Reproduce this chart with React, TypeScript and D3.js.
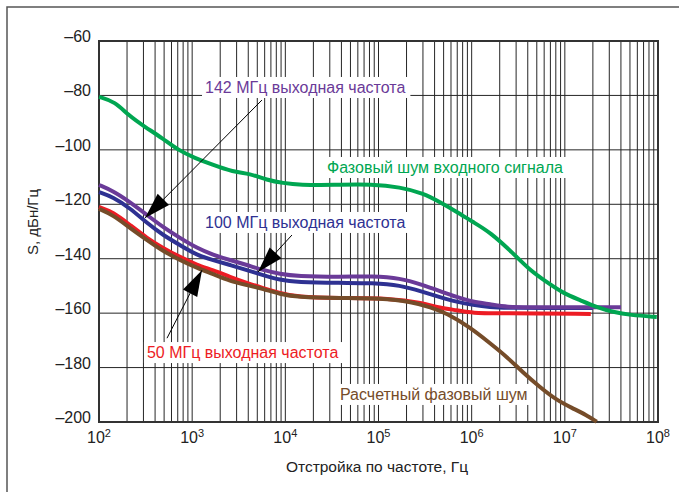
import { useEffect, useRef } from "react";
import * as d3 from "d3";

const width = 679;
const height = 492;
const marginLeft = 99;
const marginRight = 21;
const marginTop = 41;
const marginBottom = 70;
const font = "'Liberation Sans', Arial, sans-serif";

// y ticks, dBc/Hz
const yTicks = [-60, -80, -100, -120, -140, -160, -180, -200];
// x decades (exponent of 10)
const xDecades = [2, 3, 4, 5, 6, 7, 8];

// input signal phase noise
const freqInput = [100, 149, 205, 312, 474, 705, 1072, 1632, 2742, 4177, 6357, 9440, 14360, 32430, 87300, 170000, 300000, 457000, 695000, 1.03e6, 1.57e6, 2.77e6, 4.2e6, 6.4e6, 9.5e6, 1.46e7, 2.2e7, 3.3e7, 5e7, 9.7e7];
const noiseInput = [-80.5, -82.3, -87.2, -91.6, -95.6, -100.1, -103.0, -105.4, -108.1, -108.7, -111.1, -112.2, -112.9, -112.9, -112.6, -113.7, -115.9, -119.2, -122.8, -126.5, -130.2, -137.9, -144.2, -148.6, -152.6, -155.2, -157.8, -159.6, -160.7, -161.4];

// 142 MHz output
const freq142 = [100, 141, 215, 327, 486, 741, 1128, 1674, 2548, 3877, 5754, 8770, 13300, 38600, 87300, 170000, 300000, 457000, 695000, 1.03e6, 1.57e6, 2.4e6, 4.2e6, 4e7];
const noise142 = [-112.9, -115.1, -119.2, -123.9, -128.4, -132.4, -136.1, -138.6, -140.5, -142.3, -144.2, -145.6, -146.4, -146.7, -146.4, -147.1, -149.7, -151.9, -154.1, -155.9, -156.7, -157.8, -157.8, -157.8];

// 100 MHz output
const freq100 = [100, 141, 215, 327, 486, 741, 1128, 1674, 2548, 3877, 5754, 8770, 13300, 38600, 87300, 170000, 300000, 457000, 695000, 1.03e6, 1.57e6, 2.4e6, 2e7];
const noise100 = [-115.5, -117.3, -121.4, -126.9, -131.3, -135.0, -138.7, -140.5, -142.3, -144.2, -146.0, -147.8, -148.6, -148.9, -148.9, -149.7, -152.2, -154.1, -155.9, -157.0, -157.8, -158.1, -158.1];

// 50 MHz output
const freq50 = [100, 141, 215, 327, 486, 741, 1128, 1674, 2548, 3877, 5754, 8770, 13300, 38600, 133000, 300000, 457000, 695000, 1.03e6, 1.9e6, 1.9e7];
const noise50 = [-121.0, -122.8, -127.6, -132.4, -136.1, -139.4, -142.3, -144.2, -146.7, -148.9, -150.8, -152.6, -154.1, -154.5, -154.5, -156.3, -158.1, -158.9, -160.0, -160.0, -160.3];

// calculated phase noise
const freqCalc = [100, 141, 215, 327, 486, 741, 1128, 1674, 2548, 3877, 5754, 8770, 13300, 38600, 103000, 234000, 360000, 540000, 950000, 1.57e6, 2.4e6, 3.5e6, 5.4e6, 8.1e6, 1.2e7, 1.7e7, 2.2e7];
const noiseCalc = [-121.7, -123.9, -128.7, -133.1, -137.2, -140.5, -143.4, -145.6, -148.2, -149.7, -151.1, -153.0, -154.1, -154.5, -154.5, -155.9, -157.8, -160.0, -165.1, -171.0, -176.1, -181.6, -187.2, -191.9, -194.9, -197.4, -199.9];

const series = [
  { name: "50", freq: freq50, noise: noise50, color: "#ed1c24" },
  { name: "calc", freq: freqCalc, noise: noiseCalc, color: "#754c29" },
  { name: "100", freq: freq100, noise: noise100, color: "#2e3192" },
  { name: "142", freq: freq142, noise: noise142, color: "#6a3a98" },
  { name: "input", freq: freqInput, noise: noiseInput, color: "#00a651" },
];

// text notes, anchored in data space (left of text, baseline)
const notes = [
  { text: "142 МГц выходная частота", f: 1374, v: -79.1, color: "#6a3a98" },
  { text: "Фазовый шум входного сигнала", f: 28000, v: -108.5, color: "#00a651" },
  { text: "100 МГц выходная частота", f: 1374, v: -128.7, color: "#2e3192" },
  { text: "50 МГц выходная частота", f: 327, v: -176.5, color: "#ed1c24" },
  { text: "Расчетный фазовый шум", f: 38600, v: -191.9, color: "#754c29" },
];

// arrows: from [f, v] to tip [f, v]
const arrows = [
  { from: [5610, -81.7], to: [312, -125.0] },
  { from: [11770, -131.3], to: [5090, -144.9] },
  { from: [537, -169.2], to: [1274, -144.2] },
];

const App = () => {
  const ref = useRef<SVGSVGElement>(null);

  const xScale = d3
    .scaleLog()
    .domain([1e2, 1e8])
    .range([marginLeft, width - marginRight]);
  const yScale = d3
    .scaleLinear()
    .domain([-200, -60])
    .range([height - marginBottom, marginTop]);

  const line = d3
    .line<[number, number]>()
    .x((d) => xScale(d[0]))
    .y((d) => yScale(d[1]))
    .curve(d3.curveBasis);

  const minorTicks: number[] = [];
  xDecades.slice(0, -1).forEach((e) => {
    for (let k = 1; k <= 9; k++) minorTicks.push(k * Math.pow(10, e));
  });
  minorTicks.push(1e8);

  // size the white boxes behind the notes
  useEffect(() => {
    const svg = d3.select(ref.current);
    svg.selectAll<SVGGElement, unknown>(".note").each(function () {
      const g = d3.select(this);
      const bb = (g.select("text").node() as SVGTextElement).getBBox();
      g.select("rect")
        .attr("x", bb.x - 3)
        .attr("y", bb.y - 2)
        .attr("width", bb.width + 8)
        .attr("height", bb.height + 4);
    });
  }, []);

  const arrowHead = (a: { from: number[]; to: number[] }) => {
    const x0 = xScale(a.from[0]);
    const y0 = yScale(a.from[1]);
    const x1 = xScale(a.to[0]);
    const y1 = yScale(a.to[1]);
    const ang = Math.atan2(y1 - y0, x1 - x0);
    const len = 26;
    const half = 8;
    const bx = x1 - len * Math.cos(ang);
    const by = y1 - len * Math.sin(ang);
    const px = -Math.sin(ang) * half;
    const py = Math.cos(ang) * half;
    return `M${x1},${y1}L${bx + px},${by + py}L${bx - px},${by - py}Z`;
  };

  return (
    <svg
      ref={ref}
      width={width}
      height={height}
      style={{ position: "absolute", left: 0, top: 0, background: "#fff" }}
      fontFamily={font}
    >
      <rect x={7} y={7} width={width} height={height} fill="none" stroke="#555" strokeWidth={1.5} />

      {/* grid */}
      <g stroke="#262626" strokeWidth={1}>
        {minorTicks.map((t) => (
          <line key={t} x1={xScale(t)} x2={xScale(t)} y1={marginTop} y2={height - marginBottom} />
        ))}
        {yTicks.map((t) => (
          <line key={t} x1={marginLeft} x2={width - marginRight} y1={yScale(t)} y2={yScale(t)} />
        ))}
      </g>

      {/* note boxes and text */}
      {notes.map((n) => (
        <g className="note" key={n.text}>
          <rect fill="#fff" />
          <text x={xScale(n.f)} y={yScale(n.v)} fill={n.color} fontSize={16}>
            {n.text}
          </text>
        </g>
      ))}

      <rect
        x={marginLeft}
        y={marginTop}
        width={width - marginLeft - marginRight}
        height={height - marginTop - marginBottom}
        fill="none"
        stroke="#333"
        strokeWidth={2}
      />

      {/* curves */}
      {series.map((s) => (
        <path
          key={s.name}
          d={line(s.freq.map((f, i) => [f, s.noise[i]] as [number, number])) || ""}
          fill="none"
          stroke={s.color}
          strokeWidth={4}
          strokeLinejoin="round"
        />
      ))}

      {/* arrows */}
      {arrows.map((a, i) => (
        <g key={i}>
          <line
            x1={xScale(a.from[0])}
            y1={yScale(a.from[1])}
            x2={xScale(a.to[0])}
            y2={yScale(a.to[1])}
            stroke="#000"
            strokeWidth={1}
          />
          <path d={arrowHead(a)} fill="#000" />
        </g>
      ))}

      {/* y axis labels */}
      {yTicks.map((t) => (
        <text key={t} x={91} y={yScale(t) + 1} textAnchor="end" fontSize={16} fill="#222">
          {"–" + Math.abs(t)}
        </text>
      ))}
      <text
        transform={`translate(38,222) rotate(-90)`}
        textAnchor="middle"
        fontSize={15}
        fill="#222"
      >
        S, дБн/Гц
      </text>

      {/* x axis labels */}
      {xDecades.map((e) => (
        <text key={e} x={xScale(Math.pow(10, e))} y={443} textAnchor="middle" fontSize={16} fill="#222">
          10
          <tspan dy={-6} fontSize={11}>
            {e}
          </tspan>
        </text>
      ))}
      <text x={377} y={472} textAnchor="middle" fontSize={15.5} fill="#222">
        Отстройка по частоте, Гц
      </text>
    </svg>
  );
};

export default App;
